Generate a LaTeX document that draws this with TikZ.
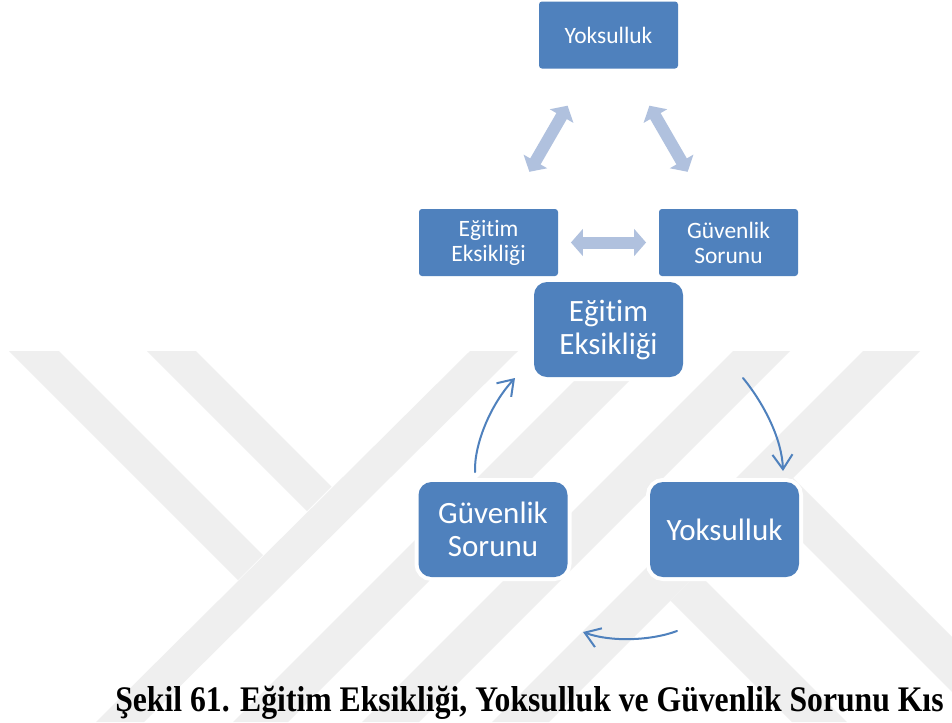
\documentclass[tikz,border=0pt]{standalone}
\usepackage{fontspec}
\setmainfont{Liberation Serif}
\newfontfamily\carlito[Ligatures=NoCommon]{Carlito}
\usetikzlibrary{arrows.meta}
\definecolor{boxblue}{RGB}{79,129,189}
\definecolor{arrowlight}{RGB}{176,193,222}
\definecolor{wm}{RGB}{239,239,239}
\begin{document}
\begin{tikzpicture}[x=0.75pt,y=-0.75pt,
  smallbox/.style={fill=boxblue, rounded corners=2.25pt, minimum width=104.25pt, minimum height=50.25pt,
    text=white, align=center, inner sep=0pt, font=\carlito\fontsize{17.6}{18.75}\selectfont},
  bigbox/.style={fill=boxblue, rounded corners=9.75pt, minimum width=111.75pt, minimum height=71.25pt,
    text=white, align=center, inner sep=0pt, font=\carlito\fontsize{23.25}{24.75}\selectfont,
    preaction={draw=white, line width=6pt}},
  dblarrow/.style={draw=arrowlight, line width=9pt, {Triangle[length=9pt,width=20pt]}-{Triangle[length=9pt,width=20pt]}},
  cyclearrow/.style={draw=boxblue, line width=1.5pt, line cap=round, -{Straight Barb[length=11pt,width=15pt]}},
  wmband/.style={fill=wm}
]
\fill[white] (0,0) rectangle (952,722);
\useasboundingbox (0,0) rectangle (952,722);

% watermark
\begin{scope}
\clip (0,0) rectangle (952,722);
\fill[wmband] (9,351) -- (59,351) -- (263,555) -- (238,580) -- cycle;
\fill[wmband] (147,351) -- (196,351) -- (331.5,486.5) -- (307,511) -- cycle;
\fill[wmband] (470,351) -- (518,351) -- (144,722) -- (96,722) -- cycle;
\fill[wmband] (604,351) -- (659,351) -- (288,722) -- (233,722) -- cycle;
\fill[wmband] (733,351) -- (790,351) -- (419,722) -- (362,722) -- cycle;
\fill[wmband] (863,351) -- (920,351) -- (549,722) -- (492,722) -- cycle;
\fill[wmband] (670.5,600.5) -- (698,573) -- (847,722) -- (792,722) -- cycle;
\fill[wmband] (765.5,505.5) -- (793,478) -- (1000,685) -- (1000,740) -- cycle;
\end{scope}

% top triangle
\node[smallbox] (ytop) at (608.5,35) {Yoksulluk};
\node[smallbox] (etop) at (488.5,242.5) {Eğitim\\Eksikliği};
\node[smallbox] (gtop) at (728.5,242.5) {Güvenlik\\Sorunu};

\draw[dblarrow, shorten <=32pt, shorten >=32pt] (etop) -- (ytop);
\draw[dblarrow, shorten <=32pt, shorten >=32pt] (gtop) -- (ytop);
\draw[dblarrow, shorten <=9.5pt, shorten >=9.5pt] (etop) -- (gtop);

% cycle
\node[bigbox] (ebig) at (608.5,329.5) {Eğitim\\Eksikliği};
\node[bigbox] (gbig) at (493,529.5) {Güvenlik\\Sorunu};
\node[bigbox] (ybig) at (724.5,529.5) {Yoksulluk};

\coordinate (c1s) at (743,378);
\coordinate (c1e) at (783,471);
\coordinate (c2s) at (677,631);
\coordinate (c2e) at (583,632);
\coordinate (c3s) at (475,472);
\coordinate (c3e) at (515,378);
\draw[cyclearrow] (c1s) .. controls (765,405) and (782,440) .. (c1e);
\draw[cyclearrow] (c2s) .. controls (650,641) and (610,642) .. (c2e);
\draw[cyclearrow] (c3s) .. controls (474,445) and (490,405) .. (c3e);

% caption
\node[anchor=base west, inner sep=0pt, font=\fontsize{27}{30}\selectfont\bfseries] (cap) at (115,711)
  {\scalebox{0.88}[1]{Şekil 61. Eğitim Eksikliği, Yoksulluk ve Güvenlik Sorunu Kıs}};
\end{tikzpicture}
\end{document}
